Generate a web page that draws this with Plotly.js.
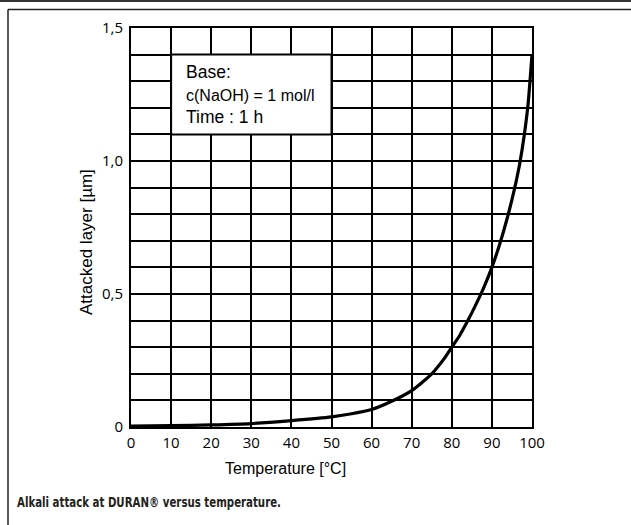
<!DOCTYPE html>
<html>
<head>
<meta charset="utf-8">
<script src="https://cdn.plot.ly/plotly-3.0.1.min.js"></script>
<style>
html,body{margin:0;padding:0;background:#fff;overflow:hidden;}
#chart{width:631px;height:525px;}
</style>
</head>
<body>
<div id="chart"></div>
<script>
// Data
const temperature = [0, 10, 20, 30, 40, 50, 55, 60, 65, 70, 75, 78, 80, 82, 84, 86, 88, 90, 92, 94, 95, 96, 97, 98, 99, 100];
const attackedLayer = [0.003, 0.005, 0.008, 0.013, 0.024, 0.038, 0.05, 0.066, 0.097, 0.137, 0.2, 0.255, 0.3, 0.345, 0.4, 0.46, 0.525, 0.6, 0.69, 0.795, 0.855, 0.92, 0.995, 1.09, 1.21, 1.40];

const xTickVals = [0, 10, 20, 30, 40, 50, 60, 70, 80, 90, 100];
const xTickText = ['0', '10', '20', '30', '40', '50', '60', '70', '80', '90', '100'];
const yTickVals = [0, 0.1, 0.2, 0.3, 0.4, 0.5, 0.6, 0.7, 0.8, 0.9, 1.0, 1.1, 1.2, 1.3, 1.4, 1.5];
const yTickText = ['0', '', '', '', '', '0,5', '', '', '', '', '1,0', '', '', '', '', '1,5'];

const xTitle = 'Temperature [°C]';
const yTitle = 'Attacked layer [µm]';
const boxLines = ['Base:', 'c(NaOH) = 1 mol/l', 'Time : 1 h'];
const caption = 'Alkali attack at DURAN® versus temperature.';

const W = 631, H = 525;
const M = {l: 131, r: 99, t: 28, b: 98};
const PW = W - M.l - M.r, PH = H - M.t - M.b;
const px = x => (x - M.l) / PW;          // pixel x -> paper x
const py = y => (H - M.b - y) / PH;      // pixel y -> paper y

const trace = {
  x: temperature,
  y: attackedLayer,
  type: 'scatter',
  mode: 'lines',
  line: {color: '#000', width: 3.2, shape: 'spline', smoothing: 0.6},
  hoverinfo: 'skip',
  cliponaxis: false
};

const helv = 'Liberation Sans, Arial, sans-serif';

const layout = {
  width: W, height: H,
  margin: M,
  paper_bgcolor: '#fff',
  plot_bgcolor: '#fff',
  showlegend: false,
  font: {family: 'Open Sans, sans-serif', color: '#000'},
  xaxis: {
    range: [0, 100],
    tickvals: xTickVals, ticktext: xTickText,
    showgrid: true, gridcolor: '#000', gridwidth: 2,
    showline: true, linecolor: '#000', linewidth: 2, mirror: true,
    zeroline: false, ticks: '',
    tickfont: {family: 'Open Sans, sans-serif', size: 15, color: '#000'},
    ticklabelstandoff: 1,
    fixedrange: true
  },
  yaxis: {
    range: [0, 1.5],
    tickvals: yTickVals, ticktext: yTickText,
    showgrid: true, gridcolor: '#000', gridwidth: 2,
    showline: true, linecolor: '#000', linewidth: 2, mirror: true,
    zeroline: false, ticks: '',
    tickfont: {family: 'Open Sans, sans-serif', size: 15, color: '#000'},
    ticklabelstandoff: 3,
    fixedrange: true
  },
  shapes: [
    // white label box covering the grid
    {type: 'rect', xref: 'x', yref: 'y', x0: 10, x1: 50, y0: 1.1, y1: 1.4,
     fillcolor: '#fff', line: {color: '#000', width: 2}, layer: 'above'},
    // page frame lines
    {type: 'line', xref: 'paper', yref: 'paper', x0: px(0), x1: px(W), y0: py(1), y1: py(1),
     line: {color: '#333', width: 2}},
    {type: 'line', xref: 'paper', yref: 'paper', x0: px(8), x1: px(W), y0: py(9.5), y1: py(9.5),
     line: {color: '#222', width: 1.5}},
    {type: 'line', xref: 'paper', yref: 'paper', x0: px(8), x1: px(8), y0: py(9.5), y1: py(H),
     line: {color: '#222', width: 1.5}}
  ],
  annotations: [
    {text: boxLines[0], xref: 'paper', yref: 'paper', x: px(184), y: py(72),
     xanchor: 'left', yanchor: 'middle', showarrow: false,
     font: {family: helv, size: 17.5, color: '#000'}},
    {text: boxLines[1], xref: 'paper', yref: 'paper', x: px(184), y: py(95),
     xanchor: 'left', yanchor: 'middle', showarrow: false,
     font: {family: helv, size: 16, color: '#000'}},
    {text: boxLines[2], xref: 'paper', yref: 'paper', x: px(184), y: py(117),
     xanchor: 'left', yanchor: 'middle', showarrow: false,
     font: {family: helv, size: 17.5, color: '#000'}},
    {text: xTitle, xref: 'paper', yref: 'paper', x: px(285), y: py(468),
     xanchor: 'center', yanchor: 'middle', showarrow: false,
     font: {family: helv, size: 16, color: '#000'}},
    {text: yTitle, xref: 'paper', yref: 'paper', x: px(86), y: py(242),
     xanchor: 'center', yanchor: 'middle', showarrow: false, textangle: -90,
     font: {family: helv, size: 17, color: '#000'}},
    {text: '<b>' + caption + '</b>', xref: 'paper', yref: 'paper', x: px(17), y: py(502),
     xanchor: 'left', yanchor: 'middle', showarrow: false,
     font: {family: 'DejaVu Sans Condensed, DejaVu Sans, sans-serif', size: 14, color: '#222'}}
  ]
};

Plotly.newPlot('chart', [trace], layout, {staticPlot: true, displayModeBar: false}).then(gd => {
  // condense the bold caption to the reference width and keep it left-aligned at x = 17px
  const texts = gd.querySelectorAll('.annotation-text');
  const root = gd.getBoundingClientRect();
  texts.forEach(t => {
    if (t.textContent.indexOf('DURAN') >= 0) {
      t.setAttribute('textLength', '264');
      t.setAttribute('lengthAdjust', 'spacingAndGlyphs');
      const r = t.getBoundingClientRect();
      const shift = 17 - (r.left - root.left);
      const prev = t.getAttribute('transform') || '';
      t.setAttribute('transform', prev + ' translate(' + shift + ',0)');
    }
  });
});
</script>
</body>
</html>
